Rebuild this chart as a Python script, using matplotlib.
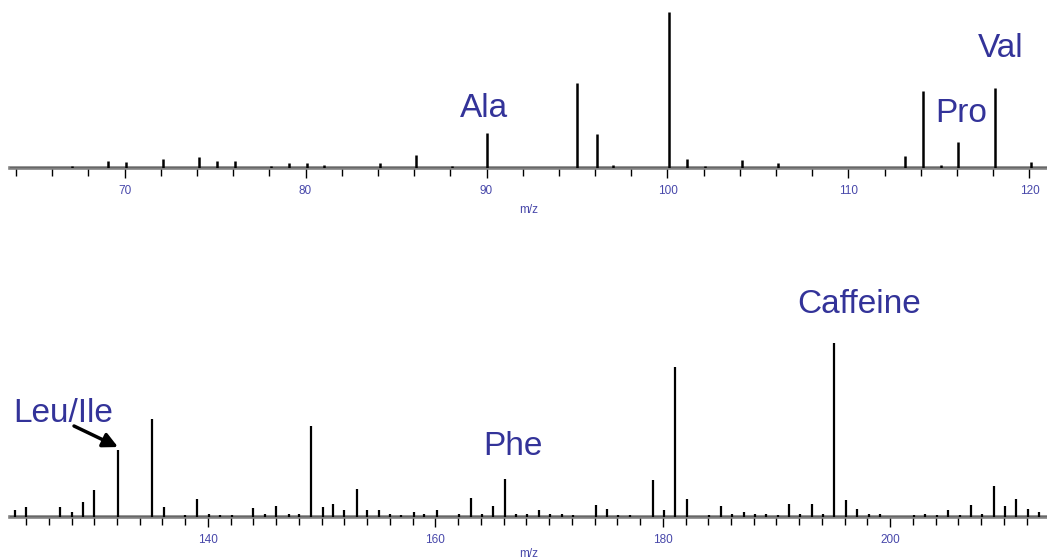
import matplotlib
matplotlib.use("Agg")
import matplotlib.pyplot as plt
from matplotlib.ticker import MultipleLocator

plt.rcParams['font.family'] = ['Liberation Sans', 'DejaVu Sans']

# espectro superior (m/z 64-121), intensidad relativa %
mz_top = [67.1, 69.1, 70.1, 72.1, 74.1, 75.1, 76.1, 78.1, 79.1, 80.1, 81.0,
          84.1, 86.1, 88.1, 90.05, 95.0, 96.1, 97.0, 100.1, 101.1, 102.1,
          104.1, 106.1, 113.1, 114.1, 115.1, 116.07, 118.09, 120.1]
int_top = [1.3, 4.5, 3.8, 5.8, 7.0, 4.5, 4.5, 1.3, 3.2, 3.2, 1.9,
           3.2, 8.3, 1.3, 22.4, 54.5, 21.8, 1.9, 100.0, 5.8, 1.3,
           5.1, 3.2, 7.7, 49.4, 1.9, 16.7, 51.3, 3.8]

# espectro inferior (m/z 123-214)
mz_bot = [123.0, 124.0, 127.0, 128.0, 129.0, 130.0, 132.1, 135.1, 136.1, 138.0,
          139.0, 140.1, 141.1, 142.1, 144.0, 145.0, 146.0, 147.1, 148.0, 149.1,
          150.1, 151.0, 152.0, 153.1, 154.0, 155.0, 156.0, 157.0, 158.1, 159.0,
          160.1, 162.1, 163.1, 164.1, 165.1, 166.09, 167.1, 168.1, 169.1, 170.1,
          171.1, 172.1, 174.1, 175.1, 176.1, 177.1, 179.1, 180.1, 181.1, 182.1,
          184.1, 185.1, 186.1, 187.1, 188.1, 189.1, 190.1, 191.1, 192.1, 193.1,
          194.1, 195.09, 196.1, 197.1, 198.1, 199.1, 202.1, 203.1, 204.1, 205.1,
          206.1, 207.1, 208.1, 209.1, 210.1, 211.1, 212.1, 213.1]
int_bot = [4.0, 5.7, 5.7, 2.9, 8.6, 15.5, 38.5, 56.3, 5.7, 1.1,
           10.3, 1.7, 1.1, 1.1, 5.2, 1.7, 6.3, 1.7, 1.7, 52.3,
           5.7, 7.5, 4.0, 16.1, 4.0, 4.0, 1.7, 1.1, 2.9, 1.7,
           4.0, 1.7, 10.9, 1.7, 6.3, 21.8, 1.7, 1.7, 4.0, 1.7,
           1.7, 1.1, 6.9, 4.6, 1.1, 1.1, 21.3, 4.0, 86.2, 10.3,
           1.1, 6.3, 1.7, 2.9, 1.7, 1.7, 1.1, 7.5, 1.7, 7.5,
           1.7, 100.0, 9.8, 4.6, 1.7, 1.7, 1.1, 1.7, 1.1, 4.0,
           1.1, 6.9, 1.7, 17.8, 6.3, 10.3, 4.6, 2.9]

labels_top = ["Ala", "Pro", "Val"]
labels_top_pos = [(88.53, 32.7), (114.77, 29.5), (117.15, 71.2)]
labels_bot = ["Leu/Ile", "Phe", "Caffeine"]
labels_bot_pos = [(122.85, 54.6), (164.19, 35.6), (191.81, 117.2)]

azul_txt = '#333399'
azul_ticks = '#4848aa'

fig = plt.figure(figsize=(10.47, 5.59), dpi=100)
ax1 = fig.add_axes([10 / 1047, 1 - 168 / 559, 1037 / 1047, 156 / 559])
ax2 = fig.add_axes([10 / 1047, 1 - 517 / 559, 1037 / 1047, 174 / 559])


def estilo(ax, xmin, xmax, mayor, lpad):
    ax.set_xlim(xmin, xmax)
    ax.set_ylim(0, 100)
    for s in ['left', 'right', 'top']:
        ax.spines[s].set_visible(False)
    ax.spines['bottom'].set_color('#808080')
    ax.spines['bottom'].set_linewidth(2.6)
    ax.axhline(0, color='black', lw=1.0, zorder=3)
    ax.set_yticks([])
    ax.xaxis.set_major_locator(MultipleLocator(mayor))
    ax.xaxis.set_minor_locator(MultipleLocator(2))
    ax.tick_params(axis='x', which='major', length=7.5, width=1, color='black',
                   labelsize=8.5, labelcolor=azul_ticks, pad=4.5)
    ax.tick_params(axis='x', which='minor', length=5.5, width=1, color='black')
    ax.set_xlabel('m/z', fontsize=8.5, color=azul_ticks, labelpad=lpad)
    ax.patch.set_alpha(0)


estilo(ax1, 63.67, 120.97, 10, 5)
estilo(ax2, 122.59, 213.79, 20, 1.5)

ax1.vlines(mz_top, 0, int_top, color='black', lw=1.8, zorder=4)
ax2.vlines(mz_bot, 0, int_bot, color='black', lw=1.6, zorder=4)

for txt, (x, y) in zip(labels_top, labels_top_pos):
    ax1.text(x, y, txt, fontsize=24, color=azul_txt, ha='left', va='baseline',
             clip_on=False)
for txt, (x, y) in zip(labels_bot, labels_bot_pos):
    ax2.text(x, y, txt, fontsize=24, color=azul_txt, ha='left', va='baseline',
             clip_on=False)

# flecha Leu/Ile
ax2.annotate('', xy=(132.09, 40.2), xytext=(128.22, 52.3),
             arrowprops=dict(arrowstyle='-|>', color='black', lw=2.5,
                             mutation_scale=22, shrinkA=0, shrinkB=0),
             annotation_clip=False)

fig.savefig('out.png', dpi=100)
